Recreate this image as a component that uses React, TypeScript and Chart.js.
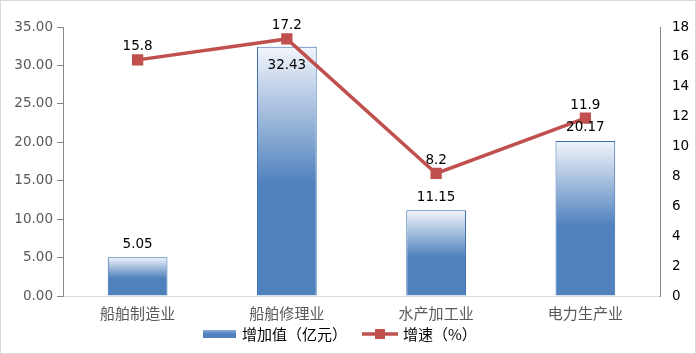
import React, { useEffect, useRef } from "react";
import { Chart, registerables } from "chart.js";

Chart.register(...registerables);

const categories = ["船舶制造业", "船舶修理业", "水产加工业", "电力生产业"];
const addedValue = [5.05, 32.43, 11.15, 20.17];
const growthRate = [15.8, 17.2, 8.2, 11.9];
const barLabel = "增加值（亿元）";
const lineLabel = "增速（%）";

const BLUE = "#4F81BD";
const RED = "#C0504D";
const NUM_FONT = '"DejaVu Sans", sans-serif';
const CJK_FONT = '"Noto Sans CJK SC", sans-serif';

const labelsPlugin = {
  id: "customLabels",
  afterDatasetsDraw(chart: any) {
    const ctx = chart.ctx;
    ctx.save();
    ctx.font = `13.5px ${NUM_FONT}`;
    ctx.fillStyle = "#000";
    ctx.textAlign = "center";
    ctx.textBaseline = "middle";
    const barMeta = chart.getDatasetMeta(0);
    barMeta.data.forEach((el: any, i: number) => {
      const v = addedValue[i];
      const inside = i === 1;
      const y = inside ? el.y + 19 : el.y - 13;
      ctx.fillText(v.toFixed(2), el.x, y);
    });
    const lineMeta = chart.getDatasetMeta(1);
    lineMeta.data.forEach((el: any, i: number) => {
      ctx.fillText(growthRate[i].toFixed(1), el.x, el.y - 13);
    });
    ctx.restore();
  },
  afterDraw(chart: any) {
    const ctx = chart.ctx;
    ctx.save();
    const y = 334;
    const g = ctx.createLinearGradient(0, y - 4, 0, y + 4);
    g.addColorStop(0, "#8FAEDB");
    g.addColorStop(0.5, BLUE);
    g.addColorStop(1, BLUE);
    ctx.fillStyle = g;
    ctx.fillRect(203, y - 4, 33, 8);
    ctx.font = `15px ${CJK_FONT}`;
    ctx.fillStyle = "#000";
    ctx.textBaseline = "middle";
    ctx.textAlign = "left";
    ctx.fillText(barLabel, 242, y);
    ctx.strokeStyle = RED;
    ctx.lineWidth = 3.5;
    ctx.beginPath();
    ctx.moveTo(362, y);
    ctx.lineTo(398, y);
    ctx.stroke();
    ctx.fillStyle = RED;
    ctx.fillRect(375, y - 5, 10, 10);
    ctx.fillStyle = "#000";
    ctx.fillText(lineLabel, 403, y);
    // outer border
    ctx.strokeStyle = "#D9D9D9";
    ctx.lineWidth = 1;
    ctx.strokeRect(0.5, 0.5, chart.width - 1, chart.height - 1);
    ctx.restore();
  },
};

export default function App() {
  const ref = useRef<HTMLCanvasElement | null>(null);
  useEffect(() => {
    if (!ref.current) return;
    const chart = new Chart(ref.current, {
      type: "bar",
      data: {
        labels: categories,
        datasets: [
          {
            type: "bar",
            label: barLabel,
            data: addedValue,
            yAxisID: "y",
            order: 2,
            borderColor: "#3A6CAE",
            borderWidth: 1,
            barPercentage: 0.8,
            categoryPercentage: 0.5,
            backgroundColor: (c: any) => {
              const chart = c.chart;
              const area = chart.chartArea;
              if (!area || c.dataIndex === undefined) return BLUE;
              const ys = chart.scales.y;
              const v = c.raw as number;
              const top = ys.getPixelForValue(v);
              const bottom = ys.getPixelForValue(0);
              const g = chart.ctx.createLinearGradient(0, top, 0, bottom);
              g.addColorStop(0, "#F2F5FB");
              g.addColorStop(0.55, BLUE);
              g.addColorStop(1, BLUE);
              return g;
            },
          } as any,
          {
            type: "line",
            label: lineLabel,
            data: growthRate,
            yAxisID: "y1",
            order: 1,
            borderColor: RED,
            backgroundColor: RED,
            borderWidth: 3.5,
            pointStyle: "rect",
            pointRadius: 5.5,
            pointHoverRadius: 5.5,
            tension: 0,
          } as any,
        ],
      },
      options: {
        animation: false,
        responsive: false,
        maintainAspectRatio: false,
        layout: { padding: { top: 27, left: 0, right: 0, bottom: 0 } },
        plugins: { legend: { display: false }, tooltip: { enabled: false } },
        scales: {
          x: {
            grid: { display: false, drawTicks: false },
            border: { color: "#D9D9D9", width: 1 },
            ticks: {
              color: "#595959",
              font: { family: CJK_FONT, size: 15 },
              padding: 8,
            },
            afterFit: (s: any) => {
              s.height = 58;
            },
          },
          y: {
            position: "left",
            min: 0,
            max: 35,
            ticks: {
              stepSize: 5,
              color: "#595959",
              font: { family: NUM_FONT, size: 13.5 },
              padding: 4,
              callback: (v: any) => Number(v).toFixed(2),
            },
            grid: { drawOnChartArea: false, drawTicks: true, tickLength: 6, color: "#868686" },
            border: { color: "#868686", width: 1 },
            afterFit: (s: any) => {
              s.width = 63;
            },
          },
          y1: {
            position: "right",
            min: 0,
            max: 18,
            ticks: {
              stepSize: 2,
              color: "#000",
              font: { family: NUM_FONT, size: 13.5 },
              padding: 12,
            },
            grid: { drawOnChartArea: false, drawTicks: false },
            border: { color: "#868686", width: 1 },
            afterFit: (s: any) => {
              s.width = 36;
            },
          },
        },
      },
      plugins: [labelsPlugin],
    });
    return () => chart.destroy();
  }, []);
  return (
    <div style={{ position: "fixed", left: 0, top: 0, width: 696, height: 354, background: "#fff" }}>
      <canvas ref={ref} width={696} height={354} style={{ display: "block", width: 696, height: 354 }} />
    </div>
  );
}
